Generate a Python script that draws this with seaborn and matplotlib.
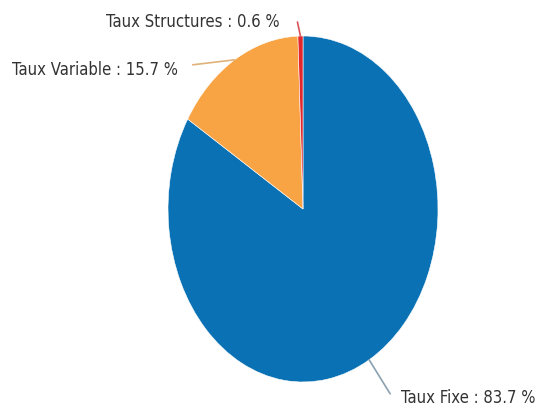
import matplotlib
matplotlib.use("Agg")
import matplotlib.pyplot as plt
import seaborn as sns
import numpy as np

labels = ["Taux Fixe", "Taux Variable", "Taux Structures"]
values = [83.7, 15.7, 0.6]
colors = ["#0a72b4", "#f8a444", "#e3262b"]
line_colors = ["#8aa0b0", "#e0b27a", "#d9535a"]

# pixel offsets (line end, text anchor) for each label
line_offsets = [(21, -34), (-42, -5), (-3, 14)]
text_offsets = [(32, -37), (-57, -9), (-21, 15)]
text_align = ["left", "right", "right"]

sns.set_theme(style="white")
plt.rcParams["font.family"] = ["DejaVu Sans", "Liberation Sans"]

fig = plt.figure(figsize=(5.36, 4.06), dpi=100)
# axes placed so the unit pie becomes the stretched ellipse of the reference
ax = fig.add_axes([168 / 536, 23 / 406, 270 / 536, 346 / 406])

wedges, _ = ax.pie(values, colors=sns.color_palette(colors), startangle=90,
                   counterclock=False,
                   wedgeprops=dict(edgecolor="white", linewidth=0.4))
ax.set_aspect("auto")
ax.set_xlim(-1, 1)
ax.set_ylim(-1, 1)
ax.axis("off")

for w, lab, val, lc, lo, to, ha in zip(wedges, labels, values, line_colors,
                                      line_offsets, text_offsets, text_align):
    ang = np.deg2rad((w.theta1 + w.theta2) / 2)
    pt = (np.cos(ang), np.sin(ang))
    ax.annotate("", xy=pt, xytext=lo, textcoords="offset pixels",
                annotation_clip=False,
                arrowprops=dict(arrowstyle="-", color=lc, lw=1.2,
                                shrinkA=0, shrinkB=0))
    ax.annotate(f"{lab} : {val} %", xy=pt, xytext=to,
                textcoords="offset pixels", ha=ha, va="center",
                fontsize=12, fontstretch="condensed", color="#333333",
                annotation_clip=False)

fig.savefig("out.png", dpi=100, facecolor="white")
